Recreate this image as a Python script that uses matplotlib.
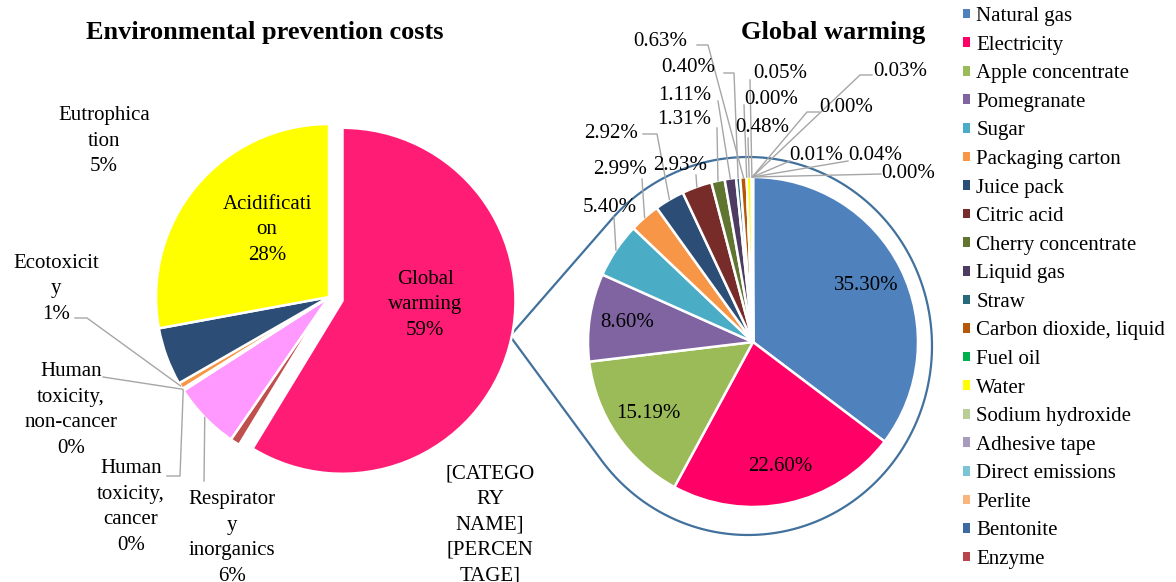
import numpy as np
import matplotlib.pyplot as plt
import matplotlib.patches as mpatches

W, H = 1176, 582

plt.rcParams['font.family'] = ['Liberation Serif', 'DejaVu Serif']

# ---- left pie: environmental prevention costs (clockwise from 12 o'clock)
env_names = ["Global\nwarming", "[CATEGO\nRY\nNAME]\n[PERCEN\nTAGE]",
             "Respirator\ny\ninorganics", "Human\ntoxicity,\ncancer",
             "Human\ntoxicity,\nnon-cancer", "Ecotoxicit\ny",
             "Eutrophica\ntion", "Acidificati\non"]
env_values = [58.7, 0.9, 6.3, 0.1, 0.1, 0.6, 5.4, 27.9]
env_colors = ["#FF1C74", "#C0504D", "#FF99FF", "#9BBB59",
              "#8064A2", "#F79646", "#2C4D75", "#FFFF00"]

# ---- right pie: global warming breakdown
gw_names = ["Natural gas", "Electricity", "Apple concentrate", "Pomegranate",
            "Sugar", "Packaging carton", "Juice pack", "Citric acid",
            "Cherry concentrate", "Liquid gas", "Straw",
            "Carbon dioxide, liquid", "Fuel oil", "Water", "Sodium hydroxide",
            "Adhesive tape", "Direct emissions", "Perlite", "Bentonite", "Enzyme"]
gw_values = [35.30, 22.60, 15.19, 8.60, 5.40, 2.99, 2.92, 2.93, 1.31, 1.11,
             0.40, 0.63, 0.00, 0.48, 0.05, 0.00, 0.03, 0.01, 0.04, 0.00]
gw_colors = ["#4F81BD", "#FF0066", "#9BBB59", "#8064A2", "#4BACC6",
             "#F79646", "#2C4D75", "#772C2A", "#5F7530", "#4D3B62",
             "#276A7C", "#B65708", "#00B050", "#FFFF00", "#B9CD96",
             "#A99BBD", "#7BC4D5", "#FAB57E", "#3D6AA0", "#B7464A"]

FS = 15
LEADER = "#A6A6A6"


def sy(y):
    # screen y (from top) -> data y
    return H - y


def wedge_point(w, frac=1.0):
    a = np.deg2rad((w.theta1 + w.theta2) / 2)
    return (w.center[0] + frac * w.r * np.cos(a),
            w.center[1] + frac * w.r * np.sin(a))


def leader(ax, w, pts):
    xs = [p[0] for p in pts]
    ys = [sy(p[1]) for p in pts]
    px, py = wedge_point(w)
    ax.plot(xs + [px], ys + [py], color=LEADER, lw=1.0, zorder=1)


fig = plt.figure(figsize=(W / 100, H / 100), dpi=100)
ax = fig.add_axes([0, 0, 1, 1])

explode = [14] + [0] * (len(env_values) - 1)
env_wedges, _ = ax.pie(env_values, colors=env_colors, explode=explode,
                       startangle=90, counterclock=False,
                       center=(329, sy(297)), radius=173,
                       wedgeprops=dict(edgecolor="white", linewidth=1.8))

gw_wedges, _ = ax.pie(gw_values, colors=gw_colors, startangle=90,
                      counterclock=False, center=(753, sy(342)), radius=165,
                      wedgeprops=dict(edgecolor="white", linewidth=1.8))

# left pie labels: (index, text centre, leader start points)
env_layout = [
    (0, (425, 305), None),
    (7, (267, 230), None),
    (6, (104, 141), None),
    (5, (56, 289), [(75, 318), (87, 318)]),
    (4, (71, 410), [(103, 377)]),
    (3, (131, 507), [(167, 476), (180, 476)]),
    (2, (232, 538), [(204, 481)]),
    (1, (490, 525), None),
]
for i, (tx, ty), pts in env_layout:
    txt = env_names[i]
    if i != 1:
        txt += "\n%d%%" % round(env_values[i])
    ax.text(tx, sy(ty), txt, ha="center", va="center", fontsize=FS,
            linespacing=1.46)
    if pts:
        leader(ax, env_wedges[i], pts)

# right pie: big slices labelled inside
for i in range(4):
    x, y = wedge_point(gw_wedges[i], 0.77)
    ax.text(x, y, "%.2f%%" % gw_values[i], ha="center", va="center",
            fontsize=FS)

gw_layout = [
    (4, (610, 207), [(614, 217)]),
    (5, (620, 169), [(642, 179)]),
    (6, (611, 133), [(643, 134), (657, 134)]),
    (7, (680, 165), [(696, 175)]),
    (8, (684, 120), [(717, 128)]),
    (9, (685, 95), [(718, 101)]),
    (10, (688, 68), [(724, 73), (734, 73)]),
    (11, (660, 42), [(697, 45), (708, 45)]),
    (12, (771, 100), [(744, 105)]),
    (13, (762, 128), [(748, 138)]),
    (14, (780, 73), [(750, 80)]),
    (15, (846, 107), [(819, 112), (807, 112)]),
    (16, (900, 72), [(872, 75), (860, 75)]),
    (17, (816, 155), [(790, 161)]),
    (18, (875, 155), [(848, 161)]),
    (19, (908, 174), [(881, 174)]),
]
for i, (tx, ty), pts in gw_layout:
    ax.text(tx, sy(ty), "%.2f%%" % gw_values[i], ha="center", va="center",
            fontsize=FS)
    leader(ax, gw_wedges[i], pts)

# connector from the exploded slice to an outline round the second pie
P = (510, sy(336))
ecx, ecy, ea, eb = 748, sy(346), 184, 189
t = np.linspace(-np.pi, np.pi, 3000)
ex = ecx + ea * np.cos(t)
ey = ecy + eb * np.sin(t)
phi = np.arctan2(ey - P[1], ex - P[0])
tu, tl = t[np.argmax(phi)], t[np.argmin(phi)]
arc = np.linspace(tu, tl, 600)
cx_ = np.concatenate([[P[0]], ecx + ea * np.cos(arc), [P[0]]])
cy_ = np.concatenate([[P[1]], ecy + eb * np.sin(arc), [P[1]]])
ax.plot(cx_, cy_, color="#41719C", lw=1.6, zorder=0.5)

ax.text(265, sy(33), "Environmental prevention costs", ha="center",
        va="center", fontsize=19, fontweight="bold")
ax.text(833, sy(33), "Global warming", ha="center", va="center",
        fontsize=19, fontweight="bold")

handles = [mpatches.Patch(facecolor=c) for c in gw_colors]
fig.legend(handles, gw_names, loc="upper left",
           bbox_to_anchor=(963 / W, 1 - 7 / H), frameon=False,
           fontsize=FS, borderpad=0, borderaxespad=0, labelspacing=0.46,
           handlelength=0.34, handleheight=0.34, handletextpad=0.3)

ax.set_xlim(0, W)
ax.set_ylim(0, H)
ax.set_axis_off()

fig.savefig("out.png", dpi=100)
